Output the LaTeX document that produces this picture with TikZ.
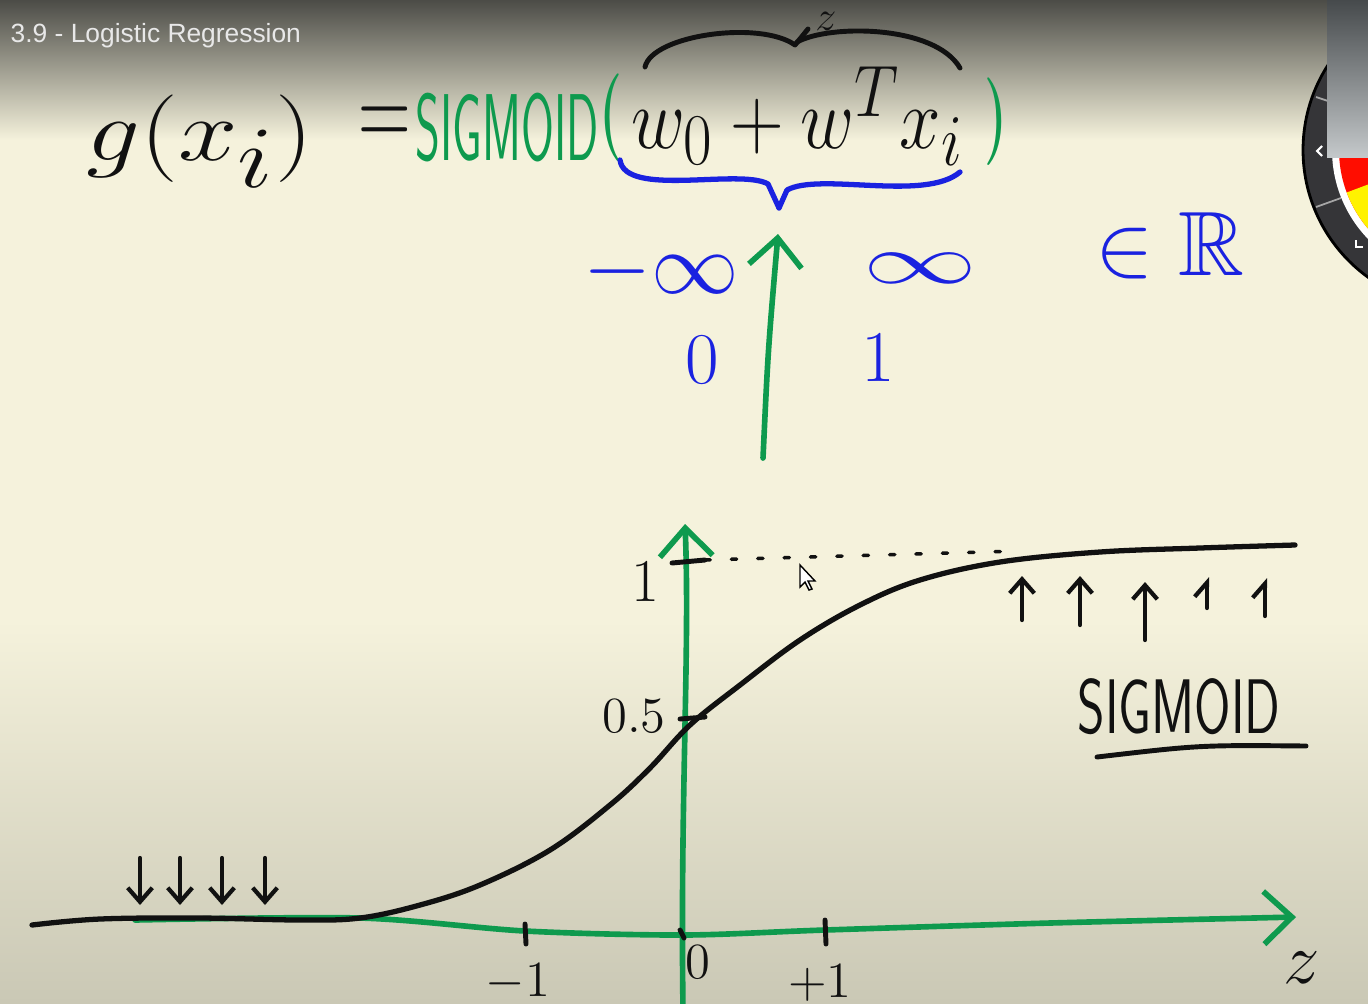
\documentclass[tikz,border=0pt]{standalone}
\usepackage{amsmath,amssymb}
\usepackage{fontspec}
\newfontfamily\titlefont{Liberation Sans}
\usetikzlibrary{arrows.meta}

\definecolor{boardcream}{HTML}{F5F2DC}
\definecolor{boardgray}{HTML}{CAC8B5}
\definecolor{barcolor}{HTML}{4C4C47}
\definecolor{titlegray}{HTML}{E8E8E8}
\definecolor{penGreen}{HTML}{0E9A4E}
\definecolor{penBlue}{HTML}{1A22E0}
\definecolor{penBlack}{HTML}{111111}
\definecolor{widgetdark}{HTML}{353538}
\definecolor{paneltop}{HTML}{464A4C}
\definecolor{panelbot}{HTML}{C4C8CA}

\begin{document}
\begin{tikzpicture}[
		x=0.01cm,
		y=-0.01cm,
		greenpen/.style={draw=penGreen, line width=1.6pt, line cap=round, line join=round},
		bluepen/.style={draw=penBlue, line width=1.5pt, line cap=round, line join=round},
		blackpen/.style={draw=penBlack, line width=1.4pt, line cap=round, line join=round},
		bigtip/.style={-{Straight Barb[length=8pt,width=15pt]}},
		smalltip/.style={-{Straight Barb[length=4pt,width=7pt]}},
		handtext/.style={inner sep=0pt, text=penBlack},
		bluetext/.style={inner sep=0pt, text=penBlue},
		greenparen/.style={inner sep=0pt, text=penGreen, font=\fontsize{38}{38}\selectfont\boldmath, xscale=0.6}
	]
	% board
	\useasboundingbox (0,0) rectangle (1368,1003);
	\fill[boardcream] (0,0) rectangle (1368,1003);
	\shade[top color=boardcream, bottom color=boardgray] (0,620) rectangle (1368,1003);
	\shade[top color=barcolor, bottom color=boardcream] (0,0) rectangle (1368,140);
	\node[anchor=west, inner sep=0pt, text=titlegray, font=\titlefont\fontsize{7.5}{9}\selectfont] (title) at (10,36) {3.9 - Logistic Regression};

	% pen widget
	\filldraw[fill=widgetdark, draw=black, line width=0.8pt] (1460,150) circle (157);
	\fill[white] (1460,150) circle (128);
	\begin{scope}
		\clip (1460,150) circle (121);
		\fill[red!90!orange] (1300,0) rectangle (1368,400);
		\fill[yellow] (1460,150) -- (1300,210) -- (1300,400) -- (1500,400) -- cycle;
	\end{scope}
	\draw[gray!70, line width=0.5pt] (1316,97) -- (1331,102);
	\draw[gray!70, line width=0.5pt] (1316,207) -- (1341,198);
	\draw[white, line width=0.6pt] (1322,146) -- (1317,151) -- (1322,156);
	\draw[white, line width=0.6pt] (1356,240) -- (1356,247) -- (1363,247);
	\shade[top color=paneltop, bottom color=panelbot] (1327,0) rectangle (1368,157);

	% formula
	\node[handtext, font=\fontsize{35}{35}\selectfont, xscale=1.22, anchor=base west] (gx) at (86,160) {$g(x_i)$};
	\node[handtext, font=\fontsize{20}{20}\selectfont, yscale=1.6] (eq) at (385,128) {$=$};
	\node[inner sep=0pt, text=penGreen, font=\sffamily\fontsize{27}{27}\selectfont, xscale=0.5, anchor=west] (sigfun) at (415,128) {SIGMOID};
	\node[greenparen] (lpar) at (611,118) {$($};
	\node[greenparen] (rpar) at (996,122) {$)$};
	\node[handtext, font=\fontsize{30}{30}\selectfont, xscale=0.85, anchor=base west] (lin) at (631,148) {$w_0 + w^T x_i$};

	% braces
	\draw[blackpen] (645,67) .. controls (652,35) and (760,20) .. (795,45) -- (808,29);
	\draw[blackpen] (797,42) .. controls (830,24) and (935,25) .. (960,68);
	\node[handtext, font=\fontsize{12}{12}\selectfont] (zlab) at (826,21) {$z$};
	\draw[bluepen] (620,160) .. controls (625,198) and (740,168) .. (768,184) -- (779,208);
	\draw[bluepen] (779,208) -- (787,190) .. controls (820,172) and (925,202) .. (960,172);

	% mapping
	\coordinate (arrowfoot) at (763,458);
	\coordinate (arrowtop) at (778,234);
	\draw[greenpen, bigtip] (arrowfoot) .. controls (768,350) .. (arrowtop);
	\node[bluetext, font=\fontsize{24}{24}\selectfont] (minf) at (661,272) {$-\infty$};
	\node[bluetext, font=\fontsize{30}{30}\selectfont, xscale=1.3, yscale=0.8] (pinf) at (920,268) {$\infty$};
	\node[bluetext, font=\fontsize{26}{26}\selectfont] (reals) at (1170,246) {$\in\mathbb{R}$};
	\node[bluetext, font=\fontsize{22}{22}\selectfont] (zero) at (702,360) {$0$};
	\node[bluetext, font=\fontsize{22}{22}\selectfont] (one) at (878,358) {$1$};

	% axes
	\coordinate (yaxbot) at (683,1010);
	\coordinate (yaxtop) at (685,524);
	\coordinate (xaxstart) at (135,920);
	\coordinate (xaxend) at (1296,917);
	\draw[greenpen, bigtip] (yaxbot) .. controls (680,800) and (690,650) .. (yaxtop);
	\draw[greenpen, bigtip] plot[smooth] coordinates {(xaxstart) (360,918) (525,931) (683,935) (825,930) (1050,923) (xaxend)};

	% ticks and tick labels
	\coordinate (tickone) at (705,560);
	\coordinate (dotend) at (1020,551);
	\draw[blackpen] (672,563) -- (tickone);
	\draw[blackpen] (680,719) -- (705,717);
	\draw[blackpen] (525,924) -- (526,944);
	\draw[blackpen] (825,920) -- (826,944);
	\draw[blackpen] (680,930) -- (684,938);
	\draw[penBlack, line width=1pt, line cap=round, dash pattern=on 1.5pt off 6pt] (tickone) -- (dotend);
	\node[handtext, font=\fontsize{16}{16}\selectfont] (yone) at (645,582) {$1$};
	\node[handtext, font=\fontsize{15}{15}\selectfont] (yhalf) at (634,716) {$0.5$};
	\node[handtext, font=\fontsize{15}{15}\selectfont] (xmone) at (518,982) {$-1$};
	\node[handtext, font=\fontsize{14}{14}\selectfont] (xzero) at (698,962) {$0$};
	\node[handtext, font=\fontsize{15}{15}\selectfont] (xpone) at (820,983) {$+1$};
	\node[handtext, font=\fontsize{20}{20}\selectfont] (xlab) at (1302,968) {$z$};

	% sigmoid curve
	\draw[blackpen, line width=1.5pt] plot[smooth, tension=0.6] coordinates {(32,925) (100,919) (200,918) (300,920) (360,918) (420,905) (480,885) (550,850) (610,805) (650,768) (690,725) (740,685) (800,640) (860,605) (920,580) (1000,562) (1100,552) (1200,548) (1295,545)};

	% pulled down / pulled up
	\foreach \x in {140,180,222,265}
		\draw[blackpen, smalltip, line width=1.2pt] (\x,858) -- (\x,905);
	\foreach \x/\ytop/\ybot in {1022/576/620, 1080/576/625, 1145/582/640}
		\draw[blackpen, smalltip, line width=1.2pt] (\x,\ybot) -- (\x,\ytop);
	\foreach \x/\ytop/\ybot in {1207/577/608, 1265/578/616}
		\draw[blackpen, -{Straight Barb[harpoon,length=4pt,width=7pt]}, line width=1.2pt] (\x,\ybot) -- (\x,\ytop);

	\node[handtext, font=\sffamily\fontsize{22}{22}\selectfont, xscale=0.68] (siglabel) at (1179,707) {SIGMOID};
	\draw[blackpen] (1097,757) .. controls (1200,745) .. (1306,746);

	% cursor
	\filldraw[fill=white, draw=black, line width=0.4pt] (800,565) -- (800,587) -- (805,582) -- (809,590) -- (812,589) -- (808,581) -- (815,581) -- cycle;
\end{tikzpicture}
\end{document}
